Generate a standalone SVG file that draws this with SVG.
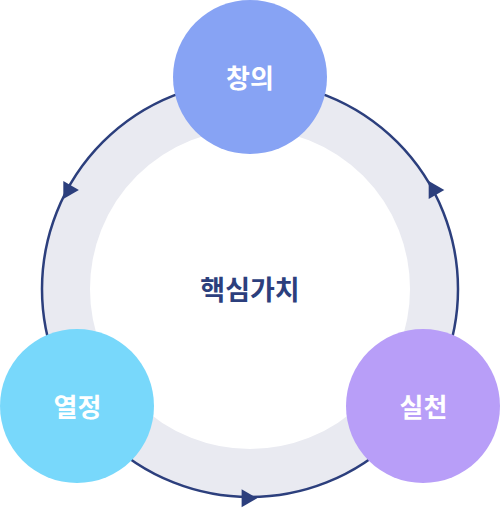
<svg xmlns="http://www.w3.org/2000/svg" xmlns:xlink="http://www.w3.org/1999/xlink" width="500" height="509" viewBox="0 0 500 509">
<style>
.ring{fill:none;stroke:#e9eaf1;stroke-width:48}
.line{fill:none;stroke:#2c3f7d;stroke-width:2.5}
.arr{fill:#2c3f7d}
.lbl{font-family:"Noto Sans CJK KR","Noto Sans",sans-serif;font-weight:700;font-size:26px;fill:#ffffff;text-anchor:middle}
.core{font-family:"Noto Sans CJK KR","Noto Sans",sans-serif;font-weight:700;font-size:27px;fill:#2c3f7d;text-anchor:middle}
</style>
<defs>
<polygon id="tri" points="-5.2,-9 10.4,0 -5.2,9"/>
</defs>
<rect width="500" height="509" fill="#ffffff"/>
<circle class="ring" cx="250" cy="289" r="184"/>
<g id="connectors">
<circle class="line" cx="250" cy="289" r="208"/>
<use href="#tri" class="arr" transform="translate(68.5,189.9) rotate(120)"/>
<use href="#tri" class="arr" transform="translate(246.8,498.2)"/>
<use href="#tri" class="arr" transform="translate(433.9,190.1) rotate(240)"/>
</g>
<g id="center">
<text class="core" x="250" y="300">핵심가치</text>
</g>
<g id="node-top">
<circle cx="250" cy="77" r="77" fill="#87a3f4"/>
<text class="lbl" x="250" y="88">창의</text>
</g>
<g id="node-left">
<circle cx="77" cy="406" r="77" fill="#78d8fb"/>
<text class="lbl" x="77.5" y="417">열정</text>
</g>
<g id="node-right">
<circle cx="423" cy="406" r="77" fill="#b89ef8"/>
<text class="lbl" x="423.5" y="417">실천</text>
</g>
</svg>
